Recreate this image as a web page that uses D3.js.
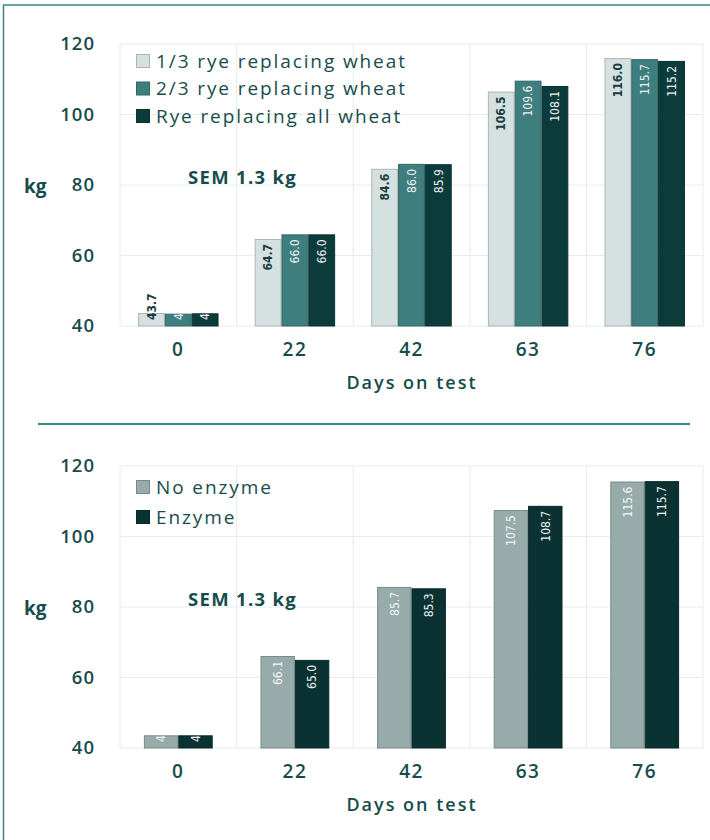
<!DOCTYPE html>
<html>
<head>
<meta charset="utf-8">
<script src="https://cdn.jsdelivr.net/npm/d3@7"></script>
<style>
  body { margin: 0; background: #fff; }
  svg text { font-family: "Open Sans", "Noto Sans", sans-serif; }
</style>
</head>
<body>
<div id="chart"></div>
<script>
// days on test (categories)
const days = ["0", "22", "42", "63", "76"];
const yTicks = [40, 60, 80, 100, 120];

// top chart: rye inclusion
const ryeNames = ["1/3 rye replacing wheat", "2/3 rye replacing wheat", "Rye replacing all wheat"];
const ryeThird = [43.7, 64.7, 84.6, 106.5, 116.0];
const ryeTwoThirds = [43.5, 66.0, 86.0, 109.6, 115.7];
const ryeAll = [43.6, 66.0, 85.9, 108.1, 115.2];

// bottom chart: enzyme
const enzymeNames = ["No enzyme", "Enzyme"];
const noEnzyme = [43.6, 66.1, 85.7, 107.5, 115.6];
const withEnzyme = [43.6, 65.0, 85.3, 108.7, 115.7];

const W = 710, H = 840;
const teal = "#174c4c";

const svg = d3.select("#chart").append("svg")
    .attr("width", W)
    .attr("height", H);

// frame lines
svg.append("line").attr("x1", 3.5).attr("x2", 3.5).attr("y1", 5).attr("y2", H)
    .attr("stroke", "#2f8883").attr("stroke-width", 1.5);
svg.append("line").attr("x1", 3).attr("x2", W).attr("y1", 5).attr("y2", 5)
    .attr("stroke", "#2f8883").attr("stroke-width", 1.5);
// divider between charts
svg.append("line").attr("x1", 38).attr("x2", 690).attr("y1", 424).attr("y2", 424)
    .attr("stroke", "#3a8a86").attr("stroke-width", 2);

let clipId = 0;

function drawChart(top, names, seriesList, colors, labelColors, labelBold, groupPad, legTop, legStep) {
    const g = svg.append("g");
    const x = d3.scaleBand().domain(days).range([120, 703])
        .paddingInner(groupPad).paddingOuter(groupPad / 2);
    const y = d3.scaleLinear().domain([40, 120]).range([top + 282, top]);
    const xs = d3.scaleBand().domain(names).range([0, x.bandwidth()]);

    // grid
    g.selectAll(".hgrid").data(yTicks).enter().append("line")
        .attr("x1", 120).attr("x2", 703)
        .attr("y1", d => y(d)).attr("y2", d => y(d))
        .attr("stroke", "#e4ecec").attr("stroke-width", 1);
    const bounds = days.map(d => x(d) - x.step() * groupPad / 2).concat([703]);
    g.selectAll(".vgrid").data(bounds).enter().append("line")
        .attr("x1", d => d).attr("x2", d => d)
        .attr("y1", y(120)).attr("y2", y(40))
        .attr("stroke", "#e4ecec").attr("stroke-width", 1);

    // y axis
    const yAxis = g.append("g")
        .attr("transform", "translate(120,0)")
        .call(d3.axisLeft(y).tickValues(yTicks).tickSize(0).tickPadding(25));
    yAxis.select(".domain").remove();
    yAxis.selectAll("text")
        .attr("font-size", 18.5).attr("font-weight", 600).attr("fill", teal).attr("letter-spacing", 1)
        .style("font-family", '"Open Sans", sans-serif');

    // x axis
    const xAxis = g.append("g")
        .attr("transform", `translate(0,${y(40)})`)
        .call(d3.axisBottom(x).tickSize(0).tickPadding(17));
    xAxis.select(".domain").remove();
    xAxis.selectAll("text")
        .attr("font-size", 19).attr("font-weight", 600).attr("fill", teal).attr("letter-spacing", 1.5)
        .style("font-family", '"Open Sans", sans-serif');

    g.append("text")
        .attr("x", 412).attr("y", y(40) + 63)
        .attr("text-anchor", "middle")
        .attr("font-size", 18).attr("font-weight", 600).attr("letter-spacing", 2)
        .attr("fill", teal)
        .text("Days on test");

    g.append("text")
        .attr("x", 24).attr("y", y(80) + 8)
        .attr("font-size", 19).attr("font-weight", 700).attr("fill", teal)
        .text("kg");

    g.append("text")
        .attr("x", 188).attr("y", y(80) - 1)
        .attr("font-size", 18.5).attr("font-weight", 700).attr("letter-spacing", 1.3)
        .attr("fill", teal)
        .text("SEM 1.3 kg");

    // bars
    seriesList.forEach((vals, si) => {
        const name = names[si];
        const bars = g.append("g");
        days.forEach((d, i) => {
            const bx = x(d) + xs(name);
            const by = y(vals[i]);
            const bw = xs.bandwidth();
            const bh = y(40) - by;
            const id = "clip" + (clipId++);
            bars.append("clipPath").attr("id", id)
                .append("rect").attr("x", bx).attr("y", by).attr("width", bw).attr("height", bh);
            bars.append("rect")
                .attr("x", bx + 0.5).attr("y", by + 0.5)
                .attr("width", bw - 1).attr("height", bh - 0.5)
                .attr("fill", colors[si])
                .attr("stroke", d3.color(colors[si]).darker(0.6))
                .attr("stroke-width", 1);
            // short bars: label starts from the bar base; only bold labels may run above
            const short = bh < 30;
            const holder = bars.append("g");
            if (!labelBold[si]) holder.attr("clip-path", `url(#${id})`);
            holder.append("text")
                .attr("transform", short
                    ? `translate(${bx + bw / 2},${y(40) - 6}) rotate(-90)`
                    : `translate(${bx + bw / 2},${by + 5}) rotate(-90)`)
                .attr("text-anchor", short ? "start" : "end")
                .attr("dy", "0.35em")
                .attr("font-size", 12)
                .attr("font-weight", labelBold[si] ? 700 : 400)
                .attr("fill", labelColors[si])
                .style("font-family", '"Liberation Sans Narrow", "DejaVu Sans Condensed", sans-serif')
                .text(vals[i].toFixed(1));
        });
    });

    // legend
    const leg = g.append("g");
    names.forEach((n, i) => {
        const ly = top + legTop + i * legStep;
        leg.append("rect")
            .attr("x", 136.5).attr("y", ly - 6.5)
            .attr("width", 13).attr("height", 13)
            .attr("fill", colors[i])
            .attr("stroke", d3.color(colors[i]).darker(0.6));
        leg.append("text")
            .attr("x", 156).attr("y", ly)
            .attr("dy", "0.35em")
            .attr("font-size", 19).attr("font-weight", 500).attr("letter-spacing", 1.9)
            .attr("fill", teal)
            .text(n);
    });
}

drawChart(44, ryeNames, [ryeThird, ryeTwoThirds, ryeAll],
    ["#d5e0e0", "#3f7e7e", "#0c3b3b"], ["#1a3d3d", "#e8f0f0", "#e8f0f0"], [true, false, false],
    0.31, 17, 27.5);

drawChart(466, enzymeNames, [noEnzyme, withEnzyme],
    ["#97abab", "#0a3232"], ["#f0f5f5", "#e8f0f0"], [false, false],
    0.41, 21, 30);
</script>
</body>
</html>
